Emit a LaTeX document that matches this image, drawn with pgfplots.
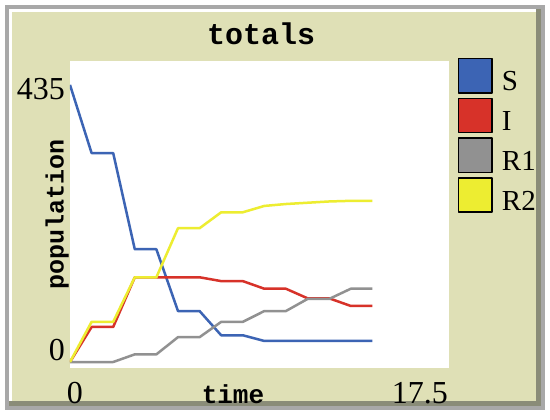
\documentclass[border=0pt]{standalone}
\usepackage{fontspec}
\setmainfont{Liberation Serif}
\newfontfamily\monob{Liberation Mono}
\usepackage{pgfplots}
\pgfplotsset{compat=1.18}
\definecolor{nlblue}{RGB}{60,100,180}
\definecolor{nlred}{RGB}{215,50,41}
\definecolor{nlgray}{RGB}{145,145,145}
\definecolor{nlyellow}{RGB}{237,237,49}
\definecolor{beige}{RGB}{223,224,182}
\definecolor{frameGray}{RGB}{168,168,168}
\definecolor{frameDark}{RGB}{138,140,120}
\begin{document}
\begin{tikzpicture}[x=1pt,y=1pt]
\fill[white] (0,0) rectangle (550,420);
\fill[frameGray] (5,10) rectangle (545,415);
\fill[frameDark] (9,14) rectangle (541,411);
\fill[white] (9,19) rectangle (536,411);
\fill[beige] (12,19) rectangle (536,408);
\begin{axis}[
  at={(70pt,52pt)}, anchor=south west,
  scale only axis, width=379pt, height=307pt,
  xmin=0, xmax=17.55, ymin=-9.4, ymax=472.5,
  axis line style={draw=none},
  axis background/.style={fill=white},
  xtick={0,17.5}, ytick={0,435},
  major tick length=0pt,
  xticklabels={\makebox[0pt][l]{\kern-3pt 0},\makebox[0pt][r]{17.5}},
  yticklabels={\raisebox{2pt}{0},\raisebox{-15pt}{435}},
  xticklabel style={anchor=base, yshift=-36pt, inner sep=0pt, font=\fontsize{32}{32}\selectfont},
  yticklabel style={anchor=base east, xshift=-5pt, inner sep=0pt, font=\fontsize{32}{32}\selectfont},
  title={totals},
  title style={font=\monob\bfseries\fontsize{30}{30}\selectfont, at={(axis description cs:0.504,1.033)}, anchor=base, inner sep=0pt},
  xlabel={time},
  xlabel style={font=\monob\bfseries\fontsize{26}{26}\selectfont, at={(axis description cs:0.43,-0.117)}, anchor=base, inner sep=0pt},
  ylabel={population},
  ylabel style={font=\monob\bfseries\fontsize{25}{25}\selectfont, at={(axis description cs:-0.034,0.5)}, anchor=center, inner sep=0pt},
  legend style={at={(axis description cs:1.0237,1.0098)}, anchor=north west, draw=none, fill=none, inner sep=0pt, outer sep=0pt, row sep=4pt, column sep=9pt, font=\fontsize{29}{29}\selectfont, nodes={inner sep=0pt}},
  legend cell align=left,
  legend image code/.code={\filldraw[draw=black, line width=1.5pt] (0.75pt,-11pt) rectangle (34.25pt,23.25pt);},
  every axis plot/.append style={line width=2.5pt, line join=round},
]
\addplot[nlblue] coordinates {(0,435) (1,328) (2,328) (3,177) (4,177) (5,80) (6,80) (7,42) (8,42) (9,33) (10,33) (11,33) (12,33) (13,33) (14,33)};
\addlegendentry{S}
\addplot[nlred] coordinates {(0,0) (1,55) (2,55) (3,133) (4,133) (5,133) (6,133) (7,127) (8,127) (9,115) (10,115) (11,100) (12,100) (13,88) (14,88)};
\addlegendentry{I}
\addplot[nlgray] coordinates {(0,0) (1,0) (2,0) (3,12) (4,12) (5,39) (6,39) (7,63) (8,63) (9,80) (10,80) (11,99) (12,99) (13,115) (14,115)};
\addlegendentry{R1}
\addplot[nlyellow] coordinates {(0,0) (1,63) (2,63) (3,133) (4,133) (5,210) (6,210) (7,235) (8,235) (9,245) (10,248) (11,250) (12,252) (13,253) (14,253)};
\addlegendentry{R2}
\end{axis}
\pgfresetboundingbox
\useasboundingbox (0,0) rectangle (550,420);
\end{tikzpicture}
\end{document}
